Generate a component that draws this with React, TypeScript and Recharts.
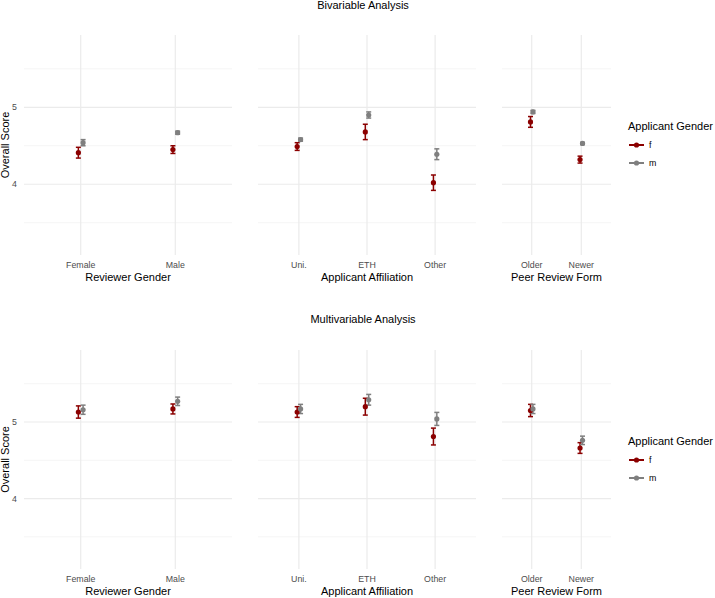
import { CartesianGrid, ComposedChart, ErrorBar, Legend, Scatter, XAxis, YAxis } from 'recharts'

const FONT = '"Liberation Sans", Arial, Helvetica, sans-serif'
const FEMALE = '#8b0000'
const MALE = '#7f7f7f'

// categories in facet order, and the facet each one belongs to
const facets = ['Reviewer Gender', 'Applicant Affiliation', 'Peer Review Form']
const categories = ['Female', 'Male', 'Uni.', 'ETH', 'Other', 'Older', 'Newer']
const facetOf = [0, 0, 1, 1, 1, 2, 2]

const genders = ['f', 'm']

// Bivariable analysis: mean overall score and half-width of the interval
const biFemale = [4.41, 4.45, 4.49, 4.68, 4.02, 4.81, 4.32]
const biFemaleErr = [0.07, 0.05, 0.05, 0.1, 0.1, 0.07, 0.045]
const biMale = [4.54, 4.67, 4.58, 4.9, 4.39, 4.94, 4.53]
const biMaleErr = [0.04, 0.02, 0.02, 0.04, 0.07, 0.02, 0.015]

// Multivariable analysis
const multiFemale = [5.13, 5.17, 5.13, 5.2, 4.81, 5.15, 4.66]
const multiFemaleErr = [0.08, 0.065, 0.07, 0.11, 0.11, 0.08, 0.07]
const multiMale = [5.16, 5.27, 5.17, 5.29, 5.04, 5.17, 4.76]
const multiMaleErr = [0.06, 0.055, 0.06, 0.07, 0.085, 0.06, 0.055]

const yMajor = [4, 5]
const yMinor = [3.5, 4.5, 5.5]
const Y_DOMAIN: [number, number] = [3.08, 5.94]
const DODGE = 0.025

// layout
const PANEL_X: [number, number][] = [
  [24, 232],
  [258, 476],
  [502, 611]
]
const LEGEND_RIGHT = 715
const AXIS_H = 30

type Series = { values: number[]; errs: number[] }

const dotShape = (color: string) => (props: any) => (
  <circle cx={props.cx} cy={props.cy} r={2.6} fill={color} />
)

function LegendContent(props: any) {
  const items = props.payload ?? []
  return (
    <div style={{ fontFamily: FONT, color: '#000' }}>
      <div style={{ fontSize: 11, lineHeight: '14px', whiteSpace: 'nowrap' }}>Applicant Gender</div>
      <div style={{ height: 3 }} />
      {items.map((item: any) => (
        <div key={item.value} style={{ display: 'flex', alignItems: 'center', height: 18 }}>
          <svg width={17} height={10}>
            <line x1={1} x2={16} y1={5} y2={5} stroke={item.color} strokeWidth={2} />
            <circle cx={8.5} cy={5} r={2.6} fill={item.color} />
          </svg>
          <span style={{ marginLeft: 4, fontSize: 8.8 }}>{item.value}</span>
        </div>
      ))}
    </div>
  )
}

type PanelProps = {
  facet: number
  female: Series
  male: Series
  top: number
  plotHeight: number
}

function Panel({ facet, female, male, top, plotHeight }: PanelProps) {
  const idx = facetOf.map((f, i) => (f === facet ? i : -1)).filter((i) => i >= 0)
  const cats = idx.map((i) => categories[i])
  const fData = idx.map((i, k) => ({ x: k + 1 - DODGE, y: female.values[i], err: female.errs[i] }))
  const mData = idx.map((i, k) => ({ x: k + 1 + DODGE, y: male.values[i], err: male.errs[i] }))

  const showY = facet === 0
  const showLegend = facet === 2
  const [x0, x1] = PANEL_X[facet]
  const left = showY ? 0 : x0
  const width = (showLegend ? LEGEND_RIGHT : x1) - left
  const rightMargin = showLegend ? LEGEND_RIGHT - x1 : 0

  return (
    <div style={{ position: 'absolute', left, top }}>
      <ComposedChart
        width={width}
        height={plotHeight + AXIS_H}
        margin={{ top: 0, right: rightMargin, bottom: 0, left: 0 }}
      >
        <CartesianGrid
          vertical={false}
          horizontalValues={yMinor}
          syncWithTicks
          stroke="#f3f3f3"
          strokeWidth={0.8}
        />
        <CartesianGrid horizontalValues={yMajor} syncWithTicks stroke="#ebebeb" strokeWidth={1.2} />
        <XAxis
          type="number"
          dataKey="x"
          domain={[0.4, cats.length + 0.6]}
          ticks={cats.map((_, k) => k + 1)}
          tickFormatter={(v: number) => cats[Math.round(v) - 1] ?? ''}
          interval={0}
          allowDataOverflow
          axisLine={false}
          tickLine={false}
          tickSize={5}
          tickMargin={2}
          height={AXIS_H}
          tick={{ fill: '#4d4d4d', fontSize: 8.8 }}
          label={{ value: facets[facet], position: 'insideBottom', offset: 4, fill: '#000', fontSize: 11 }}
        />
        <YAxis
          type="number"
          dataKey="y"
          domain={Y_DOMAIN}
          ticks={yMajor}
          allowDataOverflow
          hide={!showY}
          width={24}
          axisLine={false}
          tickLine={false}
          tickSize={5}
          tickMargin={2}
          tick={{ fill: '#4d4d4d', fontSize: 8.8 }}
          label={{
            value: 'Overall Score',
            angle: -90,
            position: 'insideLeft',
            offset: 5,
            fill: '#000',
            fontSize: 11,
            style: { textAnchor: 'middle' }
          }}
        />
        {showLegend && (
          <Legend
            layout="vertical"
            align="center"
            verticalAlign="middle"
            content={LegendContent}
            wrapperStyle={{ left: 126, top: 84, width: 'auto', height: 'auto' }}
          />
        )}
        <Scatter name={genders[0]} data={fData} fill={FEMALE} shape={dotShape(FEMALE)} isAnimationActive={false}>
          <ErrorBar dataKey="err" direction="y" width={2.5} strokeWidth={1.5} stroke={FEMALE} isAnimationActive={false} />
        </Scatter>
        <Scatter name={genders[1]} data={mData} fill={MALE} shape={dotShape(MALE)} isAnimationActive={false}>
          <ErrorBar dataKey="err" direction="y" width={2.5} strokeWidth={1.5} stroke={MALE} isAnimationActive={false} />
        </Scatter>
      </ComposedChart>
    </div>
  )
}

function RowTitle({ text, baseline }: { text: string; baseline: number }) {
  return (
    <div
      style={{
        position: 'absolute',
        left: 263,
        width: 200,
        top: baseline - 10.3,
        textAlign: 'center',
        fontSize: 11,
        lineHeight: '13px',
        color: '#000',
        whiteSpace: 'nowrap'
      }}
    >
      {text}
    </div>
  )
}

export default function App() {
  const rows = [
    {
      title: 'Bivariable Analysis',
      baseline: 9.5,
      top: 35,
      plotHeight: 220,
      female: { values: biFemale, errs: biFemaleErr },
      male: { values: biMale, errs: biMaleErr }
    },
    {
      title: 'Multivariable Analysis',
      baseline: 323.5,
      top: 350,
      plotHeight: 219,
      female: { values: multiFemale, errs: multiFemaleErr },
      male: { values: multiMale, errs: multiMaleErr }
    }
  ]

  return (
    <div
      style={{
        position: 'absolute',
        left: 0,
        top: 0,
        width: 715,
        height: 598,
        background: '#fff',
        overflow: 'hidden',
        fontFamily: FONT
      }}
    >
      {rows.map((row) => (
        <div key={row.title}>
          <RowTitle text={row.title} baseline={row.baseline} />
          {facets.map((_, f) => (
            <Panel
              key={f}
              facet={f}
              female={row.female}
              male={row.male}
              top={row.top}
              plotHeight={row.plotHeight}
            />
          ))}
        </div>
      ))}
    </div>
  )
}
